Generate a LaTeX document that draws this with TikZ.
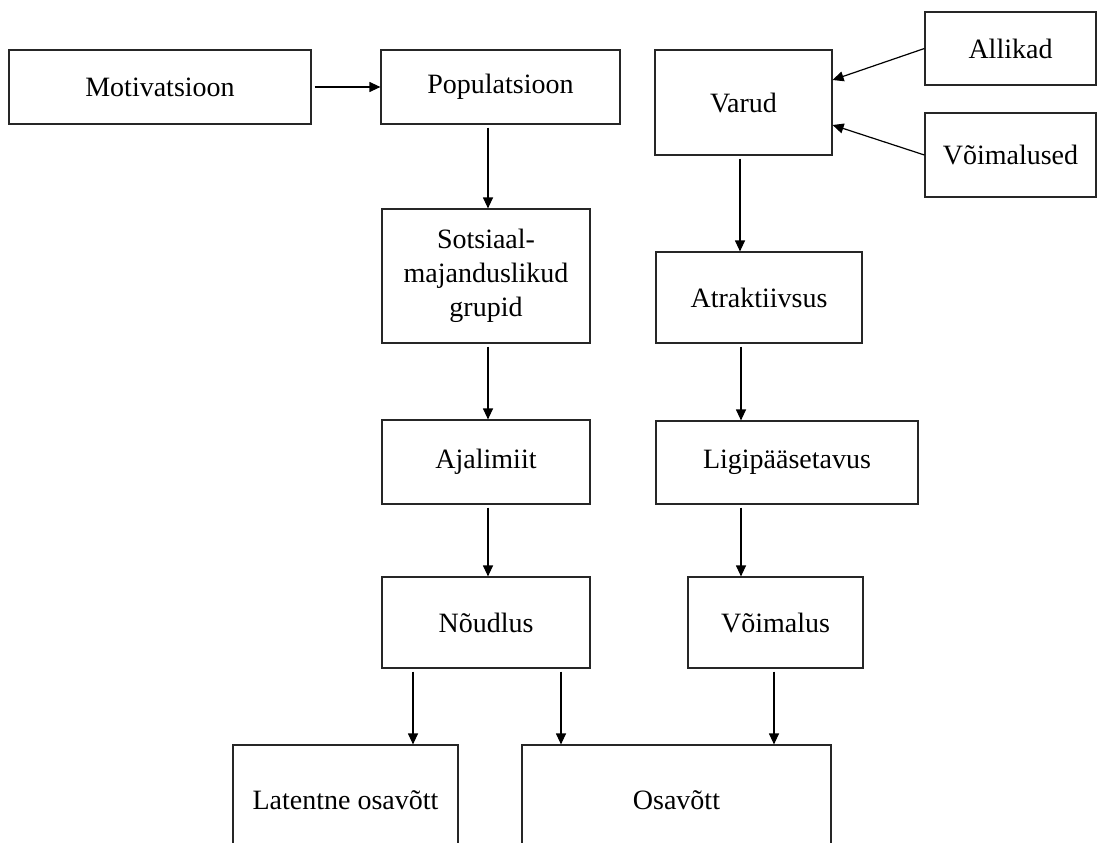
\documentclass[tikz,border=0pt]{standalone}
\usepackage{fontspec}
\setmainfont{Liberation Serif}
\usetikzlibrary{arrows.meta}
\tikzstyle{diagram} = [x = 1pt, y = -1pt]
\tikzstyle{boxStyle} = [draw, color=black!85, text=black, line width = 1.2pt, inner sep = 0pt, align = center, font = \fontsize{28}{34}\selectfont]
\tikzstyle{arrowStyle} = [-{Triangle[length=11pt, width=10pt]}, line width = 1.2pt, shorten <= 3pt]
\newcommand{\boxAt}[6]{\node [boxStyle, minimum width = #4 - #2, minimum height = #5 - #3] (#1) at ({(#2 + #4) / 2}, {(#3 + #5) / 2}) {#6};}

\begin{document}
\begin{tikzpicture}[diagram]
    \useasboundingbox (0,0) rectangle (1098,843);
    \boxAt{motiv}{9}{50}{311}{124}{Motivatsioon}
    \boxAt{popul}{381}{50}{620}{124}{Populatsioon}
    \boxAt{varud}{655}{50}{832}{155}{Varud}
    \boxAt{allikad}{925}{12}{1096}{85}{Allikad}
    \boxAt{voimalused}{925}{113}{1096}{197}{Võimalused}
    \boxAt{sots}{382}{209}{590}{343}{Sotsiaal-\\majanduslikud\\grupid}
    \boxAt{atrakt}{656}{252}{862}{343}{Atraktiivsus}
    \boxAt{ajal}{382}{420}{590}{504}{Ajalimiit}
    \boxAt{ligi}{656}{421}{918}{504}{Ligipääsetavus}
    \boxAt{nou}{382}{577}{590}{668}{Nõudlus}
    \boxAt{voimalus}{688}{577}{863}{668}{Võimalus}
    \boxAt{lat}{233}{745}{458}{855}{Latentne osavõtt}
    \boxAt{osa}{522}{745}{831}{855}{Osavõtt}
    \draw [arrowStyle] (motiv) -- (popul);
    \draw [arrowStyle, shorten <= 0pt] (allikad.west) -- ([yshift=22.5pt]varud.east);
    \draw [arrowStyle, shorten <= 0pt] (voimalused.west) -- ([yshift=-22.5pt]varud.east);
    \draw [arrowStyle] ([xshift=-12.5pt]popul.south) -- ([xshift=2pt]sots.north);
    \draw [arrowStyle] ([xshift=2pt]sots.south) -- ([xshift=2pt]ajal.north);
    \draw [arrowStyle] ([xshift=2pt]ajal.south) -- ([xshift=2pt]nou.north);
    \draw [arrowStyle] ([xshift=-3.5pt]varud.south) -- ([xshift=-19pt]atrakt.north);
    \draw [arrowStyle] ([xshift=-18pt]atrakt.south) -- ([xshift=-46pt]ligi.north);
    \draw [arrowStyle] ([xshift=-46pt]ligi.south) -- ([xshift=-34.5pt]voimalus.north);
    \draw [arrowStyle] ([xshift=-73pt]nou.south) -- ([xshift=67.5pt]lat.north);
    \draw [arrowStyle] ([xshift=75pt]nou.south) -- ([xshift=-115.5pt]osa.north);
    \draw [arrowStyle] ([xshift=-1.5pt]voimalus.south) -- ([xshift=97.5pt]osa.north);
\end{tikzpicture}
\end{document}
